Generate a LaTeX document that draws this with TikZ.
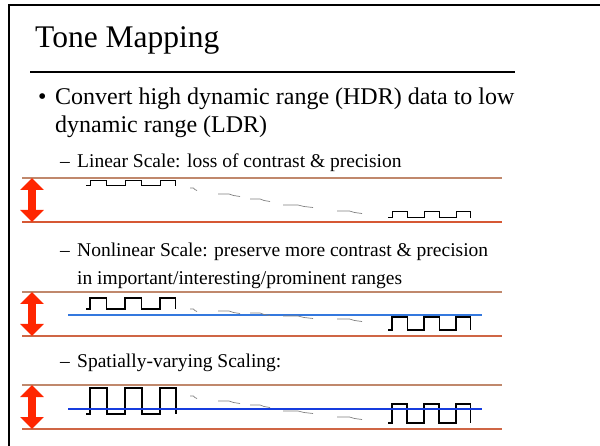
\documentclass[tikz,border=0pt]{standalone}
\usepackage{fontspec}
\setmainfont{Liberation Serif}
\usepackage{tikz}
\usetikzlibrary{arrows.meta}

\definecolor{bandtan}{RGB}{192,136,108}
\definecolor{bandred}{RGB}{214,88,52}
\definecolor{arrowred}{RGB}{255,38,0}
\definecolor{midblue}{RGB}{52,120,222}
\definecolor{deepblue}{RGB}{22,60,222}

% one train of three square pulses: start x, period, high y, low y
\newcommand{\pulsetrain}[4]{%
  \draw[wave] (#1-4,#4) -- (#1,#4) -- (#1,#3) -- (#1+0.48*#2,#3) -- (#1+0.48*#2,#4)
    -- (#1+#2,#4) -- (#1+#2,#3) -- (#1+1.48*#2,#3) -- (#1+1.48*#2,#4)
    -- (#1+2*#2,#4) -- (#1+2*#2,#3) -- (#1+2.45*#2,#3) -- (#1+2.45*#2,#4);}
% a faint wiggle in the middle of the signal: x, length, y
\newcommand{\blip}[3]{%
  \draw[faint] (#1,#3) -- (#1+0.5*#2,#3) -- (#1+0.7*#2,#3+1.5) -- (#1+#2,#3+2.5);}

\begin{document}
\begin{tikzpicture}[x=1pt, y=-1pt,
    bandline/.style={draw=bandtan, line width=1.6pt},
    bigarrow/.style={draw=arrowred, line width=8.5pt,
      {Triangle[width=23pt,length=12pt]}-{Triangle[width=23pt,length=12pt]}},
    wave/.style={draw=black, line width=1.3pt},
    faint/.style={draw=gray, line width=0.7pt},
    bodytext/.style={anchor=base west, inner sep=0pt, font=\fontsize{24}{28}\selectfont},
    subtext/.style={anchor=base west, inner sep=0pt, font=\fontsize{19.5}{24}\selectfont}]
    \useasboundingbox (0,0) rectangle (600,446);

    % Slide frame
    \draw[line width=2.5pt] (9,446) -- (9,5) -- (600,5);

    % Title
    \node[anchor=base west, inner sep=0pt, font=\fontsize{31.5}{36}\selectfont] (title) at (35,48) {Tone Mapping};
    \draw[line width=1.6pt] (30,72) -- (515,72);

    % Bullet text
    \node[bodytext] (dot) at (38,105) {\textbullet};
    \node[bodytext] (conv1) at (55,105) {Convert high dynamic range (HDR) data to low};
    \node[bodytext] (conv2) at (55,133) {dynamic range (LDR)};

    \node[subtext] (dash1) at (60,168) {–};
    \node[subtext] (linear) at (77,168) {Linear Scale: loss of contrast \& precision};
    \node[subtext] (dash2) at (60,257) {–};
    \node[subtext] (nonlin1) at (77,257) {Nonlinear Scale: preserve more contrast \& precision};
    \node[subtext] (nonlin2) at (77,285) {in important/interesting/prominent ranges};
    \node[subtext] (dash3) at (60,368) {–};
    \node[subtext] (spatial) at (77,368) {Spatially-varying Scaling:};

    % Band 1: linear
    \coordinate (top1) at (32,178);
    \coordinate (bot1) at (32,222);
    \draw[bandline] (22,178) -- (502,178);
    \draw[bandline, draw=bandred] (22,222) -- (502,222);
    \draw[bigarrow] (top1) -- (bot1);
    \begin{scope}[wave/.append style={line width=1pt}]
      \pulsetrain{90}{35}{181}{186}
      \pulsetrain{392}{32}{212}{218}
    \end{scope}
    \blip{190}{7}{188}
    \blip{218}{22}{194}
    \blip{250}{20}{199}
    \blip{283}{30}{205}
    \blip{337}{25}{211}

    % Band 2: nonlinear
    \coordinate (top2) at (32,292);
    \coordinate (bot2) at (32,336);
    \draw[bandline] (22,292) -- (502,292);
    \draw[bandline, draw=bandred!70!bandtan] (22,336) -- (502,336);
    \draw[bigarrow] (top2) -- (bot2);
    \draw[midblue, line width=2pt] (68,315) -- (482,315);
    \pulsetrain{90}{35}{298}{309}
    \pulsetrain{392}{32}{317}{330}
    \blip{190}{7}{309}
    \blip{218}{22}{311}
    \blip{250}{20}{313}
    \blip{283}{30}{316}
    \blip{337}{25}{319}

    % Band 3: spatially varying
    \coordinate (top3) at (32,385);
    \coordinate (bot3) at (32,429);
    \draw[bandline] (22,385) -- (502,385);
    \draw[bandline, draw=bandred!70!bandtan] (22,429) -- (502,429);
    \draw[bigarrow] (top3) -- (bot3);
    \begin{scope}[wave/.append style={line width=1.8pt}]
      \pulsetrain{90}{35}{388}{414}
      \pulsetrain{392}{32}{404}{423}
    \end{scope}
    \draw[deepblue, line width=1.4pt] (68,409) -- (482,409);
    \blip{190}{7}{396}
    \blip{218}{22}{401}
    \blip{250}{20}{405}
    \blip{283}{30}{411}
    \blip{337}{25}{417}
\end{tikzpicture}
\end{document}
